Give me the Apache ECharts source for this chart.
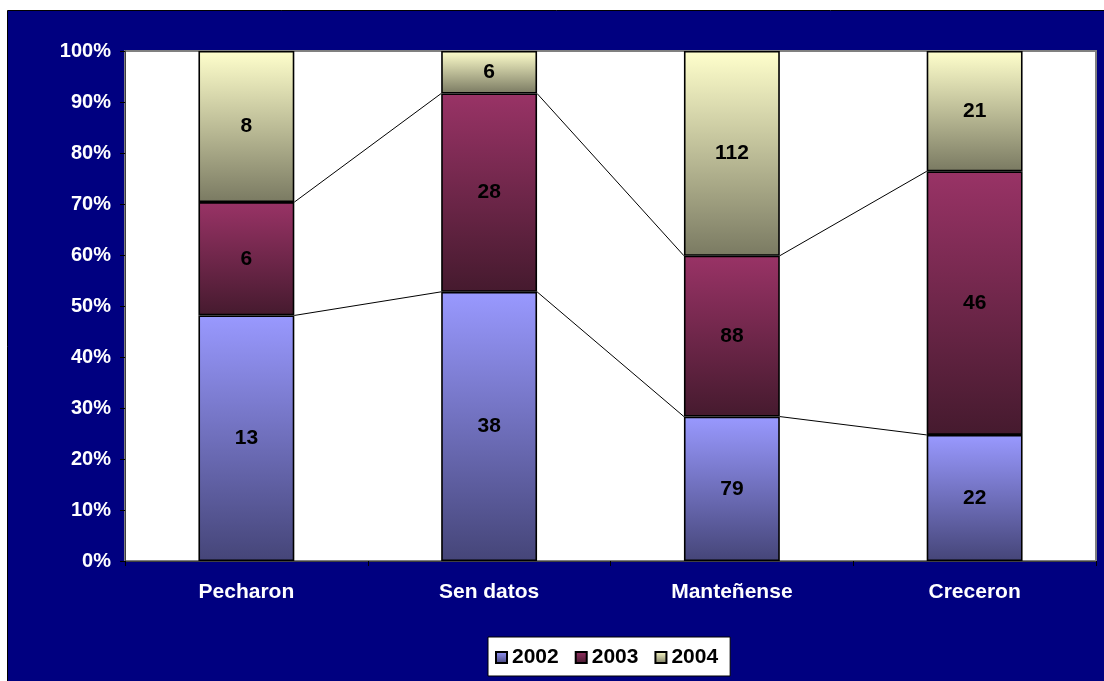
<!DOCTYPE html>
<html><head><meta charset="utf-8">
<script src="https://cdn.jsdelivr.net/npm/echarts@6/dist/echarts.min.js"></script>
<style>html,body{margin:0;padding:0;background:#fff}#c{width:1104px;height:681px}</style>
</head><body><div id="c"></div>
<script>
const categories = ['Pecharon', 'Sen datos', 'Manteñense', 'Creceron'];
const seriesNames = ['2002', '2003', '2004'];
const v2002 = [13, 38, 79, 22];
const v2003 = [6, 28, 88, 46];
const v2004 = [8, 6, 112, 21];
const yTicks = [0, 10, 20, 30, 40, 50, 60, 70, 80, 90, 100];

const raw = [v2002, v2003, v2004];
const totals = categories.map((_, i) => v2002[i] + v2003[i] + v2004[i]);
const pct = raw.map(arr => arr.map((v, i) => v / totals[i] * 100));
const cum1 = pct[0];
const cum2 = pct[0].map((v, i) => v + pct[1][i]);

const FONT = 'Liberation Sans, Arial, sans-serif';
const grads = [
  ['#9999FF', '#454578'],
  ['#993366', '#451a2e'],
  ['#FFFFCC', '#7a7a62']
];
const BAR_FRAC = 0.395;

function grad(c) {
  return { type: 'linear', x: 0, y: 0, x2: 0, y2: 1, colorStops: [{ offset: 0, color: c[0] }, { offset: 1, color: c[1] }] };
}

const barSeries = seriesNames.map((name, s) => ({
  name: name,
  type: 'bar',
  stack: 'total',
  barWidth: (BAR_FRAC * 100) + '%',
  data: pct[s],
  itemStyle: { color: grad(grads[s]), borderColor: '#000', borderWidth: 1.6 },
  label: {
    show: true, position: 'inside', color: '#000', fontSize: 21, fontWeight: 'bold',
    fontFamily: FONT,
    formatter: p => raw[s][p.dataIndex]
  },
  z: 2
}));

const lineData = [];
[cum1, cum2].forEach(cum => {
  for (let i = 0; i < categories.length - 1; i++) lineData.push([i, cum[i], cum[i + 1]]);
});

const seriesLines = {
  type: 'custom',
  name: 'lines',
  silent: true,
  z: 3,
  data: lineData,
  renderItem: function (params, api) {
    const i = api.value(0);
    const p1 = api.coord([i, api.value(1)]);
    const p2 = api.coord([i + 1, api.value(2)]);
    const band = api.size([1, 0])[0];
    const hw = band * BAR_FRAC / 2;
    return {
      type: 'line',
      shape: { x1: p1[0] + hw, y1: p1[1], x2: p2[0] - hw, y2: p2[1] },
      style: { stroke: '#000', lineWidth: 1 }
    };
  }
};

const chart = echarts.init(document.getElementById('c'));
chart.setOption({
  animation: false,
  backgroundColor: '#fff',
  graphic: [{
    type: 'rect', z: -10, silent: true,
    shape: { x: 7.5, y: 10.5, width: 1100, height: 680 },
    style: { fill: '#000080', stroke: '#000', lineWidth: 1 }
  }],
  grid: {
    left: 125, top: 51, width: 971, height: 510, show: true,
    backgroundColor: '#fff', borderColor: '#808080', borderWidth: 2
  },
  legend: {
    data: seriesNames,
    left: 488, top: 637,
    icon: 'rect',
    backgroundColor: '#fff', borderColor: '#000', borderWidth: 1,
    padding: [10, 12, 8, 7],
    itemWidth: 11, itemHeight: 11, itemGap: 16,
    textStyle: { fontSize: 21, fontWeight: 'bold', color: '#000', fontFamily: FONT, padding: [0, 0, 0, 0] }
  },
  xAxis: {
    type: 'category', data: categories,
    axisLine: { show: true, lineStyle: { color: '#404040', width: 1 } },
    axisTick: { show: true, length: 5, lineStyle: { color: '#000' } },
    axisLabel: { color: '#fff', fontSize: 21, fontWeight: 'bold', margin: 21, fontFamily: FONT }
  },
  yAxis: {
    type: 'value', min: 0, max: 100, interval: 10,
    axisLine: { show: true, lineStyle: { color: '#404040', width: 1 } },
    axisTick: { show: true, length: 5, inside: false, lineStyle: { color: '#000' } },
    splitLine: { show: false },
    axisLabel: {
      color: '#fff', fontSize: 20, fontWeight: 'bold', margin: 14,
      fontFamily: FONT,
      formatter: v => (yTicks.indexOf(v) >= 0 ? v + '%' : '')
    }
  },
  series: barSeries.concat([seriesLines])
});
</script></body></html>
